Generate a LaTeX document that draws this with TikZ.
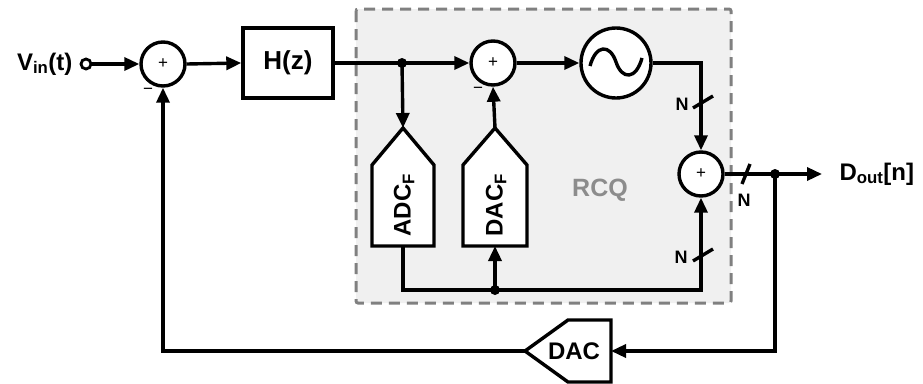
\documentclass[tikz,border=0pt]{standalone}
\usepackage{fontspec}
\setmainfont{Liberation Sans}
\usetikzlibrary{arrows.meta}
\begin{document}
\begin{tikzpicture}[x=1pt,y=-1pt,
  wire/.style={line width=3.4pt,line join=miter},
  arr/.style={wire,-{Triangle[length=15pt,width=13pt]}},
  sumc/.style={circle,draw,line width=3.4pt,minimum size=44pt,inner sep=0pt,fill=white},
  blk/.style={draw,line width=3.4pt,fill=white,line join=miter},
  lbl/.style={font=\bfseries\fontsize{24}{26}\selectfont},
  nlbl/.style={font=\bfseries\fontsize{18}{20}\selectfont},
  dotj/.style={circle,fill=black,inner sep=0pt,minimum size=10pt},
  pl/.style={font=\fontsize{17}{17}\selectfont},
]
\useasboundingbox (0,0) rectangle (923,383);
% RCQ region
\draw[line width=3pt,dash pattern=on 11pt off 7pt,draw=black!50,fill=black!6,rounded corners=2pt] (356,9) rectangle (731,303);
\node[font=\bfseries\fontsize{25}{28}\selectfont,text=black!45] (rcq) at (600,190) {RCQ};

% input
\node[lbl,anchor=east] (vin) at (76,64) {V\textsubscript{in}(t)};
\node[circle,draw,line width=2.8pt,minimum size=10pt,inner sep=0pt] (inc) at (86,64) {};
\node[sumc] (s1) at (163,64) {};
\node[pl] at (s1) {+};
\node[pl] at (148,91) {\textminus};

\node[blk,minimum width=90pt,minimum height=70pt,inner sep=0pt] (h) at (288,63) {};
\node[font=\bfseries\fontsize{26}{28}\selectfont] at (h) {H(z)};

\node[sumc] (s2) at (493,63) {};
\node[pl] at (s2) {+};
\node[pl] at (478,90) {\textminus};

\node[circle,draw,line width=3.4pt,minimum size=70pt,inner sep=0pt,fill=white] (osc) at (616,63) {};
\draw[line width=3.4pt] (590,66) .. controls (596,44) and (610,44) .. (616,62) .. controls (622,80) and (636,80) .. (642,58);

\node[sumc] (s3) at (701,174) {};
\node[pl] at (s3) {+};

\node[dotj] (j1) at (402,63) {};
\node[dotj] (j2) at (495,290) {};
\node[dotj] (j3) at (775,174) {};

% ADC_F
\coordinate (adcT) at (403,128);
\coordinate (adcB) at (403,246);
\draw[blk] (372,246) -- (372,165) -- (adcT) -- (434,165) -- (434,246) -- cycle;
\node[lbl,rotate=90] (adc) at (404,205) {ADC\textsubscript{F}};
% DAC_F
\coordinate (dacT) at (495,128);
\coordinate (dacB) at (495,246);
\draw[blk] (463,246) -- (463,165) -- (dacT) -- (527,165) -- (527,246) -- cycle;
\node[lbl,rotate=90] (dacf) at (496,205) {DAC\textsubscript{F}};
% DAC
\coordinate (dacTip) at (525,351);
\coordinate (dacR) at (611,351);
\draw[blk] (dacTip) -- (568,320) -- (611,320) -- (611,382) -- (568,382) -- cycle;
\node[lbl] (dac) at (574,351) {DAC};

% output
\coordinate (oend) at (822,174);
\node[lbl,anchor=west] (dout) at (836,174) {D\textsubscript{out}[n]};

% connections
\draw[arr] (inc.east) -- (s1.west);
\draw[arr] (s1.east) -- (h.west);
\draw[wire] (h.east) -- (j1.center);
\draw[arr] (j1.center) -- (s2.west);
\draw[arr] (j1.center) -- (adcT);
\draw[arr] (s2.east) -- (osc.west);
\draw[arr] (dacT) -- (s2.south);
\draw[arr] (osc.east) -| (s3.north);
\draw[wire] (adcB) |- (j2.center);
\draw[arr] (j2.center) -| (s3.south);
\draw[arr] (j2.center) -- (dacB);
\draw[arr] (s3.east) -- (oend);
\draw[arr] (j3.center) |- (dacR);
\draw[arr] (dacTip) -| (s1.south);

% bus slashes
\draw[line width=3.4pt] (693,108) -- (713,96);
\node[nlbl] at (682,104) {N};
\draw[line width=3.4pt] (742,184) -- (750,164);
\node[nlbl] at (744,200) {N};
\draw[line width=3.4pt] (693,261) -- (713,249);
\node[nlbl] at (681,257) {N};
\end{tikzpicture}
\end{document}
